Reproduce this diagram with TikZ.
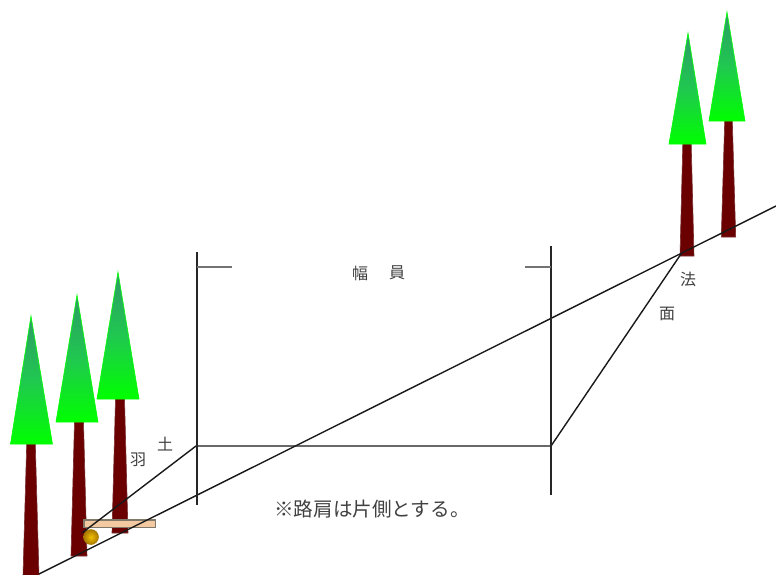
\documentclass[tikz,border=0pt]{standalone}
\usepackage{fontspec}
\newfontfamily\cjk{Noto Sans CJK JP}
\tikzset{
  crown/.style={top color=crowntop,bottom color=crownbot,middle color=crownmid,draw=crownbot,line width=0.6pt,line join=miter},
  trunk/.style={fill=trunkred,draw=trunkedge,line width=0.6pt},
  mainline/.style={draw=black!90,line width=1.4pt},
  markline/.style={draw=black!85,line width=1.3pt},
  tickline/.style={draw=black!55,line width=1.2pt},
  lbl/.style={font=\cjk\fontsize{16}{16}\selectfont,text=black!75,inner sep=0pt},
}
\definecolor{crowntop}{HTML}{2E9A66}
\definecolor{crownmid}{HTML}{20C850}
\definecolor{crownbot}{HTML}{00FF00}
\definecolor{trunkred}{HTML}{6A0000}
\definecolor{trunkedge}{HTML}{7A3030}
\definecolor{planktan}{HTML}{F2C9A0}
\definecolor{plankedge}{HTML}{807868}
\definecolor{ballgold}{HTML}{F0C000}
\definecolor{ballrim}{HTML}{A87800}
\newcommand{\drawtree}[9]{%
  \path[trunk] ({#9-#6},#5) -- ({#9+#6},#5) -- ({#9+#7},#8) -- ({#9-#7},#8) -- cycle;
  \shade[crown] (#1,#2) -- (#4,#5) -- (#3,#5) -- cycle;
}
\begin{document}
\begin{tikzpicture}[x=1pt,y=-1pt]
\useasboundingbox (0,0) rectangle (776,574);
\fill[white] (0,0) rectangle (776,574);
\begin{scope}
\clip (0,0) rectangle (776,574);
% trees, left group
\drawtree{31}{316}{10.5}{52.5}{444}{4.3}{8}{576}{31}
\drawtree{77}{295}{56}{98}{422}{4.5}{8}{556}{79}
\drawtree{118}{272}{97}{139}{399}{4.5}{8}{533}{120}
% trees, right group
\drawtree{688}{33}{669}{706}{144}{4.2}{7}{256}{687}
\drawtree{727}{12}{709}{745}{121}{3.8}{7.2}{237}{728.5}
% plank and ball
\path[fill=planktan,draw=plankedge,line width=1.3pt] (84,520) rectangle (155.5,527.5);
\shade[inner color=ballgold,outer color=ballrim,draw=ballrim,line width=0.5pt] (91,537) circle (7.5);
% connectors
\coordinate (groundL) at (39,574);
\coordinate (groundR) at (776,206);
\coordinate (toe) at (82,533);
\coordinate (shoulderL) at (196,446);
\coordinate (shoulderR) at (551,446);
\coordinate (crest) at (681,254);
\coordinate (vLt) at (197,252);
\coordinate (vLb) at (197,505);
\coordinate (vRt) at (551,246);
\coordinate (vRb) at (551,495);
\coordinate (tLa) at (197,267);
\coordinate (tLb) at (232,267);
\coordinate (tRa) at (525,267);
\coordinate (tRb) at (551,267);
\draw[mainline] (groundL) -- (groundR);
\draw[mainline,line join=round] (toe) -- (shoulderL) -- (shoulderR) -- (crest);
\draw[markline] (vLt) -- (vLb);
\draw[markline] (vRt) -- (vRb);
\draw[tickline] (tLa) -- (tLb);
\draw[tickline] (tRa) -- (tRb);
\end{scope}
% labels
\node[lbl] (t1) at (360,273) {幅};
\node[lbl] (t2) at (397,273) {員};
\node[lbl] (t3) at (165,444) {土};
\node[lbl] (t4) at (138,460) {羽};
\node[lbl] (t5) at (688,279) {法};
\node[lbl] (t6) at (667,314) {面};
\node[lbl,font=\cjk\fontsize{19.6}{20}\selectfont,anchor=west] (t7) at (274,509) {※路肩は片側とする。};
\end{tikzpicture}
\end{document}
